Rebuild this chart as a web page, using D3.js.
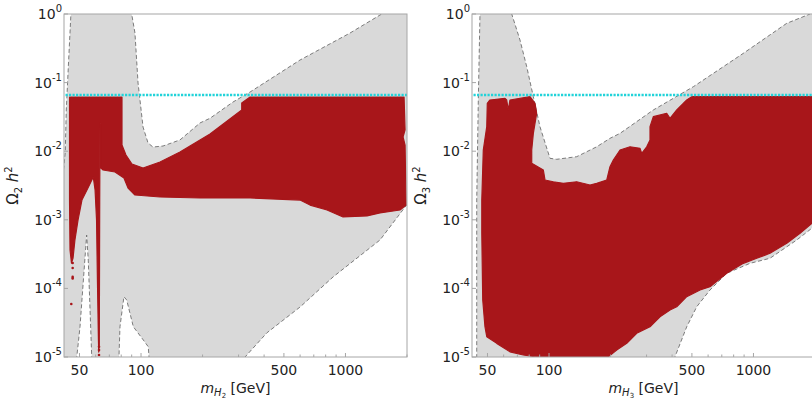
<!DOCTYPE html>
<html>
<head>
<meta charset="utf-8">
<script src="https://cdn.jsdelivr.net/npm/d3@7"></script>
<style>
	body { margin: 0; background: #fff; }
	svg { display: block; font-family: 'DejaVu Sans', sans-serif; }
</style>
</head>
<body>
<div id="chart"></div>
<script>
// Axis setup
const X_DOMAIN = [42, 2000];
const Y_DOMAIN = [1e-5, 1];
const X_TICKS = [50, 100, 500, 1000];
const X_MINOR = [60, 70, 80, 90, 200, 300, 400, 600, 700, 800, 900, 2000];
const Y_TICKS = [1, 1e-1, 1e-2, 1e-3, 1e-4, 1e-5];
const Y_EXPONENTS = ['0', '-1', '-2', '-3', '-4', '-5'];
const RELIC_OMEGA = 0.066;

// [mass GeV, Omega h^2] outlines, points above 1 or below 1e-5 sit outside the frame
const allowedH2 = [
	[41, 5e-6], [41, 0.003], [42.6, 0.0097], [43.1, 0.0399], [44.1, 0.1705], [45.4, 1], [45.6, 1.3],
	[89.8, 1.3], [90.0, 1], [93.4, 0.528], [96.7, 0.0987], [102.3, 0.0225], [108.2, 0.0132],
	[114.4, 0.0115], [128.1, 0.0119], [155.1, 0.0146], [194.3, 0.0258], [217.5, 0.0302],
	[281.8, 0.0521], [341.5, 0.0729], [599.7, 0.2135], [1053, 0.528], [1505, 1], [1530, 1.3],
	[2100, 1.3], [2100, 0.0019], [1990, 0.00164], [1476, 0.000508], [870, 0.000147],
	[600, 5.36e-5], [412, 2.24e-5], [322.7, 1e-5], [318, 5e-6],
	[109.5, 5e-6], [109.4, 1e-5], [108.5, 1.41e-5], [102.6, 1.77e-5], [91.7, 2.76e-5],
	[85.1, 6.77e-5], [82.5, 7.57e-5], [78.9, 2.76e-5], [78.0, 1e-5], [77.9, 5e-6],
	[57.5, 5e-6], [57.4, 1e-5], [55.2, 0.000259], [54.2, 0.0006], [50.3, 2.76e-5],
	[48.5, 1e-5], [48.4, 5e-6]
];

const relicH2 = [
	[44.7, 0.0617], [80.7, 0.0617], [80.7, 0.0123], [84.4, 0.00881], [90.3, 0.00651],
	[102.3, 0.00569], [123.9, 0.00696], [155.1, 0.00973], [217.5, 0.0178], [310.9, 0.0399],
	[310.9, 0.0504], [341.5, 0.0617], [1935, 0.0617], [1957, 0.0204], [1913, 0.0161],
	[1957, 0.0123], [1979, 0.00164], [1849, 0.00139], [1476, 0.00126], [1275, 0.00114],
	[973, 0.0011], [812.6, 0.00139], [671, 0.00164], [599.7, 0.00194], [341.5, 0.00208],
	[194.3, 0.00208], [123.9, 0.00215], [93.4, 0.0023], [86.4, 0.00291], [82.5, 0.00407],
	[74.6, 0.00498], [65.2, 0.00532], [63.7, 0.00569], [63.7, 0.0241], [63.0, 0.0258],
	[62.8, 0.00194], [62.6, 6.77e-5], [62.5, 1.5e-5], [62.1, 1.18e-5], [61.9, 1.77e-5],
	[61.2, 0.000133], [60.6, 0.000993], [59.6, 0.00272], [58.4, 0.00421], [55.0, 0.00291],
	[51.4, 0.00194], [49.2, 0.000993], [47.5, 0.000508], [46.5, 0.000277], [45.7, 0.000234],
	[44.95, 0.000363], [44.7, 0.00194]
];

const strayH2 = [
	[46.3, 0.000234], [46.3, 0.000198], [46.3, 0.000147], [46.3, 0.00014], [45.6, 5.93e-5],
	[62.3, 1.41e-5], [62.3, 1.26e-5], [62.3, 1.07e-5]
];

const allowedH3 = [
	[44.0, 5e-6], [44.3, 1e-5], [44.3, 0.00194], [45.1, 0.0558], [45.95, 1], [46.1, 1.3],
	[65.4, 1.3], [65.7, 1], [72.1, 0.418], [77.8, 0.1705], [83.8, 0.0623], [90.3, 0.0228],
	[101.1, 0.00788], [109.0, 0.00762], [136.6, 0.00832], [171.1, 0.0116], [198.7, 0.0154],
	[222.5, 0.0182], [323.7, 0.0399], [508, 0.0871], [892, 0.267], [1455, 0.732], [1891, 1],
	[1920, 1.3], [2100, 1.3], [2100, 0.00085], [1929, 0.000752], [1629, 0.000508],
	[1205, 0.000275], [962, 0.000232], [740, 0.000166], [613, 9.48e-5], [528, 5.41e-5],
	[471.6, 2.76e-5], [413.4, 1.01e-5], [410, 5e-6]
];

const relicH3 = [
	[49.9, 0.0499], [51.4, 0.0558], [60.9, 0.059], [62.1, 0.0558], [63.2, 0.0399],
	[64.4, 0.0558], [80.7, 0.0623], [85.4, 0.0499], [87.0, 0.0357], [83.8, 0.0182],
	[82.3, 0.0104], [82.3, 0.00667], [93.8, 0.00532], [95.6, 0.0038], [104.9, 0.00359],
	[117.5, 0.0034], [136.6, 0.00359], [158.7, 0.00322], [171.1, 0.0034], [191.5, 0.0038],
	[198.7, 0.00594], [206.3, 0.00745], [222.5, 0.0104], [249.0, 0.0116], [278.7, 0.011],
	[284.1, 0.00931], [300.6, 0.0116], [311.9, 0.0146], [311.9, 0.0228], [323.7, 0.0319],
	[376.4, 0.0357], [390.7, 0.0302], [421.4, 0.0399], [471.6, 0.0558], [499.0, 0.0623],
	[2100, 0.0623], [2100, 0.00103], [1929, 0.000889], [1690, 0.000636], [1455, 0.000454],
	[1205, 0.000325], [1038, 0.000275], [892, 0.000232], [740, 0.000166], [613, 0.000106],
	[548, 9.48e-5], [471.6, 7.57e-5], [421.4, 5.41e-5], [390.7, 4.84e-5], [349.1, 3.86e-5],
	[311.9, 2.76e-5], [268.5, 2.22e-5], [240.0, 1.58e-5], [214.4, 1.26e-5], [194.3, 1e-5],
	[194, 8e-6], [87, 8e-6], [87.0, 1e-5], [74.8, 1.07e-5], [64.4, 1.19e-5], [55.5, 1.58e-5],
	[49.6, 1.98e-5], [48.6, 2.76e-5], [47.4, 6.77e-5], [46.9, 0.000636], [46.9, 0.00194],
	[47.7, 0.0104], [49.6, 0.0228]
];

const strayH3 = [];

const COLOR_ALLOWED = '#d9d9d9';
const COLOR_RELIC = '#a8161a';
const COLOR_LINE = '#22d3d9';
const COLOR_FRAME = '#a6a6a6';

const width = 812;
const height = 399;
const margin = { top: 14, left: 64 };
const plotW = 343;
const plotH = 343;

const svg = d3
	.select('#chart')
	.append('svg')
	.attr('width', width)
	.attr('height', height);

const drawPanel = (left, id, index, allowed, relic, stray) => {
	const g = svg.append('g').attr('transform', `translate(${left},${margin.top})`);

	const xScale = d3.scaleLog().domain(X_DOMAIN).range([0, plotW]);
	const yScale = d3.scaleLog().domain(Y_DOMAIN).range([plotH, 0]);

	g.append('clipPath')
		.attr('id', id)
		.append('rect')
		.attr('width', plotW)
		.attr('height', plotH);

	const inner = g.append('g').attr('clip-path', `url(#${id})`);
	const line = d3
		.line()
		.x((d) => xScale(d[0]))
		.y((d) => yScale(d[1]));

	// Allowed region with dashed outline
	inner.append('path')
		.attr('d', line(allowed) + 'Z')
		.attr('fill', COLOR_ALLOWED)
		.attr('stroke', '#6e6e6e')
		.attr('stroke-width', 0.9)
		.attr('stroke-dasharray', '4 2.5');

	// Scan points
	inner.append('path')
		.attr('d', line(relic) + 'Z')
		.attr('fill', COLOR_RELIC)
		.attr('stroke', COLOR_RELIC)
		.attr('stroke-width', 1.2)
		.attr('stroke-linejoin', 'round');

	inner.selectAll('.dot')
		.data(stray)
		.enter()
		.append('circle')
		.attr('cx', (d) => xScale(d[0]))
		.attr('cy', (d) => yScale(d[1]))
		.attr('r', 1.3)
		.attr('fill', COLOR_RELIC);

	// Relic abundance line
	inner.append('line')
		.attr('x1', 1.5)
		.attr('x2', plotW)
		.attr('y1', yScale(RELIC_OMEGA))
		.attr('y2', yScale(RELIC_OMEGA))
		.attr('stroke', COLOR_LINE)
		.attr('stroke-width', 2.6)
		.attr('stroke-dasharray', '2.2 1.3');

	// Frame
	g.append('rect')
		.attr('width', plotW)
		.attr('height', plotH)
		.attr('fill', 'none')
		.attr('stroke', COLOR_FRAME)
		.attr('stroke-width', 1);

	// X ticks
	X_TICKS.concat(X_MINOR).forEach((t) => {
		const major = X_TICKS.includes(t);
		g.append('line')
			.attr('x1', xScale(t))
			.attr('x2', xScale(t))
			.attr('y1', plotH)
			.attr('y2', plotH - (major ? 4 : 2.5))
			.attr('stroke', COLOR_FRAME);
	});
	g.selectAll('.xlab')
		.data(X_TICKS)
		.enter()
		.append('text')
		.attr('x', (d) => xScale(d))
		.attr('y', plotH + 18)
		.attr('text-anchor', 'middle')
		.attr('font-size', 14)
		.attr('fill', '#222')
		.text((d) => d);

	// Y ticks
	Y_TICKS.forEach((t, i) => {
		g.append('line')
			.attr('x1', 0)
			.attr('x2', 4)
			.attr('y1', yScale(t))
			.attr('y2', yScale(t))
			.attr('stroke', COLOR_FRAME);
		const label = g.append('text')
			.attr('x', -2)
			.attr('y', yScale(t) + 5)
			.attr('text-anchor', 'end')
			.attr('font-size', 14)
			.attr('fill', '#222');
		label.append('tspan').text('10');
		label.append('tspan').attr('dy', -7).attr('font-size', 10).text(Y_EXPONENTS[i]);
	});

	// X title
	const xt = g.append('text')
		.attr('x', plotW / 2)
		.attr('y', 379)
		.attr('text-anchor', 'middle')
		.attr('font-size', 14)
		.attr('fill', '#222');
	xt.append('tspan').attr('font-style', 'italic').text('m');
	xt.append('tspan').attr('font-style', 'italic').attr('font-size', 10).attr('dy', 3).text('H');
	xt.append('tspan').attr('font-size', 7).attr('dy', 2).text(index);
	xt.append('tspan').attr('dy', -5).text(' [GeV]');

	// Y title
	const yt = g.append('text')
		.attr('transform', `translate(-46,${plotH / 2}) rotate(-90)`)
		.attr('text-anchor', 'middle')
		.attr('font-size', 15)
		.attr('fill', '#222');
	yt.append('tspan').text('Ω');
	yt.append('tspan').attr('font-size', 10).attr('dy', 4).text(index);
	yt.append('tspan').attr('dy', -4).text(' ');
	yt.append('tspan').attr('font-style', 'italic').text('h');
	yt.append('tspan').attr('font-size', 10).attr('dy', -6).text('2');
};

drawPanel(64, 'clipH2', '2', allowedH2, relicH2, strayH2);
drawPanel(472, 'clipH3', '3', allowedH3, relicH3, strayH3);
</script>
</body>
</html>
